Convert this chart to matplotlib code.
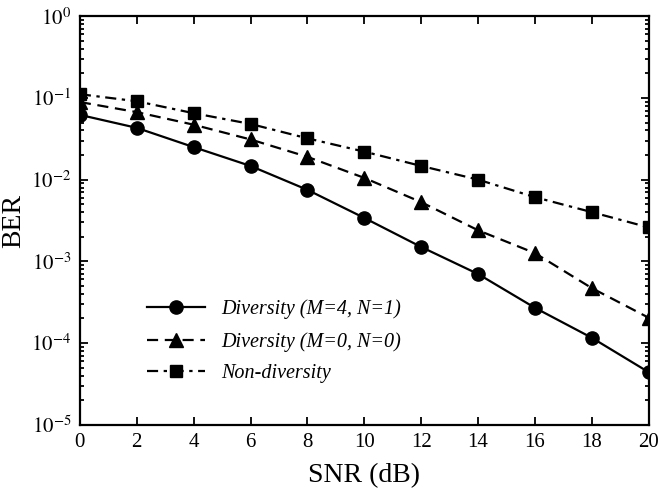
import matplotlib
matplotlib.use('Agg')
import matplotlib.pyplot as plt
from matplotlib.ticker import LogLocator, FixedLocator, NullFormatter

plt.rcParams['font.family'] = ['Liberation Serif', 'DejaVu Serif']
plt.rcParams['mathtext.fontset'] = 'stix'

snr = [0, 2, 4, 6, 8, 10, 12, 14, 16, 18, 20]
ber_div41 = [0.062, 0.043, 0.025, 0.0147, 0.0075, 0.0034, 0.0015, 0.00070, 0.00027, 0.000116, 0.000044]
ber_div00 = [0.089, 0.067, 0.047, 0.031, 0.019, 0.0105, 0.0053, 0.0024, 0.00126, 0.00047, 0.000204]
ber_nodiv = [0.111, 0.091, 0.065, 0.048, 0.032, 0.022, 0.0147, 0.010, 0.0061, 0.0040, 0.0026]

fig = plt.figure(figsize=(6.6, 4.9), dpi=100)
ax = fig.add_axes([0.121, 0.133, 0.862, 0.834])

ax.semilogy(snr, ber_div41, 'k-', marker='o', ms=9.5, lw=1.6,
            label='Diversity (M=4, N=1)')
ax.semilogy(snr, ber_div00, 'k--', marker='^', ms=9.5, lw=1.6, dashes=(5, 3),
            label='Diversity (M=0, N=0)')
ax.semilogy(snr, ber_nodiv, 'k-.', marker='s', ms=9, lw=1.6, dashes=(5, 2.5, 1.5, 2.5),
            label='Non-diversity')

ax.set_xlim(0, 20)
ax.set_ylim(1e-5, 1)
ax.xaxis.set_major_locator(FixedLocator(snr))
ax.yaxis.set_minor_locator(LogLocator(base=10, subs=range(2, 10), numticks=10))
ax.yaxis.set_minor_formatter(NullFormatter())
ax.set_yticks([1e-5, 1e-4, 1e-3, 1e-2, 1e-1, 1])
ax.set_yticklabels([r'$10^{-5}$', r'$10^{-4}$', r'$10^{-3}$', r'$10^{-2}$', r'$10^{-1}$', r'$10^{0}$'])

ax.tick_params(which='both', direction='in', top=True, right=True, labelsize=15, width=1.3, pad=6)
ax.tick_params(which='major', length=6)
ax.tick_params(which='minor', length=3)
for s in ax.spines.values():
    s.set_linewidth(1.6)

ax.set_xlabel('SNR (dB)', fontsize=20, labelpad=8)
ax.set_ylabel('BER', fontsize=20, labelpad=4)

leg = ax.legend(loc='upper left', bbox_to_anchor=(0.104, 0.326), frameon=False,
                prop={'style': 'italic', 'size': 14.5}, handlelength=2.9,
                labelspacing=0.62, handletextpad=0.8, borderaxespad=0)

fig.savefig('out.png', dpi=100)
